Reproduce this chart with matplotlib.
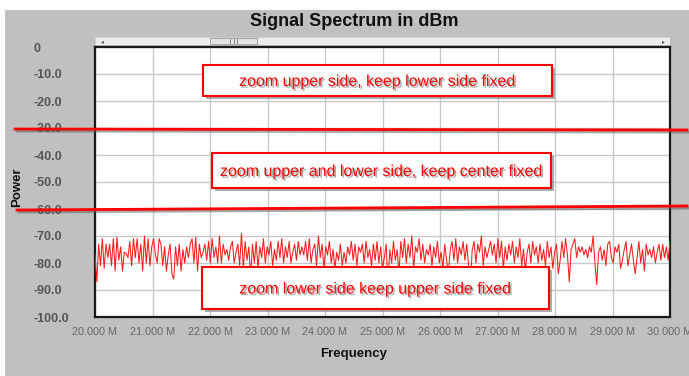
import numpy as np
import matplotlib
matplotlib.use("Agg")
import matplotlib.pyplot as plt
from matplotlib import patches, lines
import matplotlib.patheffects as pe

plt.rcParams['font.family'] = ['Liberation Sans', 'DejaVu Sans']

# Spectrum sweep (MHz) and measured power (dBm)
f_start, f_stop = 20.0, 30.0
power_dbm = [
    -77, -87, -73, -81, -71, -82, -73, -78, -73, -81, -71, -83, -70.5, -79, -74, -83,
    -76, -76.5, -78, -72, -81, -71, -78, -71, -80, -73, -83, -70, -80, -71, -81, -74,
    -71, -77, -80, -71, -73, -81, -74, -83, -77, -73, -84, -86, -74, -81, -73, -83,
    -75, -80, -74, -78, -73, -71, -80, -70.5, -83, -73, -78,
    -76, -73, -79, -72, -80, -71, -78, -74, -80, -70, -80, -73, -77, -75, -79, -74,
    -72, -80, -76, -73, -81, -69, -82, -72, -79, -74, -85, -73, -80, -72, -82, -74,
    -78, -71, -80, -74, -77, -72, -81, -75, -79, -72, -78, -71, -80, -74, -78, -72,
    -80, -76, -73, -79, -72, -77,
    -74, -77, -72, -79, -71, -80, -75, -73, -81, -70, -78, -73, -82, -74, -77, -72,
    -80, -75, -82, -76, -79, -73, -81, -76, -80, -74, -77, -72, -79, -73, -81, -74,
    -76, -73, -80, -72, -78, -75, -81, -73, -79, -72, -80, -74, -82, -78, -73, -88,
    -75, -80, -72, -79,
    -75, -84, -72, -78, -71, -80, -73, -78, -70, -82, -74, -76, -71, -79, -73, -80,
    -75, -77, -73, -81, -74, -78, -72, -80, -76, -82, -73, -79, -84, -75, -72, -79,
    -71, -80, -74, -77, -72, -79, -73, -81, -88, -75, -72, -80, -73, -76, -70, -81,
    -74, -78,
    -75, -72, -77, -73, -80, -71, -78, -72, -82, -74, -79, -73, -77, -72, -80, -74,
    -78, -71, -81, -75, -83, -76, -73, -80, -72, -77, -74, -80, -73, -79, -75, -81,
    -72, -78, -74, -82, -76, -73, -84, -79, -72, -78, -71, -77, -87, -75, -73, -71,
    -78, -74,
    -76, -74, -77, -75, -78, -74, -76, -70, -80, -88, -76, -74, -79, -75, -81, -73,
    -72, -78, -80, -74, -76, -73, -82, -79, -75, -72, -81, -77, -73, -79, -84, -78,
    -72, -80, -75, -83, -73, -77, -75, -78, -74, -80, -76, -73, -79, -73, -78, -74,
    -79, -72,
]
freq_mhz = np.linspace(f_start, f_stop, len(power_dbm))

x_ticks = np.arange(20, 31, 1)
y_ticks = np.arange(0, -101, -10)
y_labels = ["0"] + [f"{v:.1f}" for v in y_ticks[1:]]

W, H = 689, 376
fig = plt.figure(figsize=(W / 100, H / 100), dpi=100, facecolor='white')

def fx(px):
    return px / W

def fy(py):
    return 1 - py / H

# grey panel behind the chart
fig.patches.append(patches.Rectangle((fx(5), 0), 1 - fx(5), fy(10), transform=fig.transFigure,
                                     facecolor='#c0c0c0', edgecolor='none', zorder=-10))

ax = fig.add_axes([fx(95), fy(317), fx(670) - fx(95), fy(47) - fy(317)])
ax.set_facecolor('white')
ax.plot(freq_mhz, power_dbm, color='#ff1a1a', lw=0.75, zorder=3)

ax.set_xlim(f_start, f_stop)
ax.set_ylim(-100, 0)
ax.set_xticks(x_ticks)
ax.set_xticklabels([f"{v:.3f} M" for v in x_ticks], color='#666666', fontsize=7.8)
ax.set_yticks(y_ticks)
ax.set_yticklabels(y_labels, color='#555555', fontsize=9, fontweight='bold', ha='left')
ax.tick_params(axis='y', length=0, pad=62 * 0.72)
ax.tick_params(axis='x', length=0, pad=7.5)
ax.grid(True, color='#c8c8c8', lw=1.0, zorder=1)
ax.set_axisbelow(True)
for s in ax.spines.values():
    s.set_color('#1a1a1a')
    s.set_linewidth(1.6)

fig.text(fx(354), fy(22), "Signal Spectrum in dBm", ha='center', va='center',
         fontsize=13, fontweight='bold', color='#111111')
fig.text(fx(354), fy(354), "Frequency", ha='center', va='center',
         fontsize=9.5, fontweight='bold', color='#111111')
fig.text(fx(17), fy(187), "Power", ha='center', va='center', rotation=90,
         fontsize=9.5, fontweight='bold', color='#111111')

# scroll bar above the plot
sb = fig.add_axes([fx(95), fy(45), fx(670) - fx(95), fy(37) - fy(45)])
sb.set_xlim(0, 1)
sb.set_ylim(0, 1)
sb.axis('off')
sb.add_patch(patches.Rectangle((0, 0), 1, 1, facecolor='#ececec', edgecolor='#d0d0d0', lw=0.6))
thumb_l, thumb_r = (210 - 95) / 575, (257 - 95) / 575
sb.add_patch(patches.Rectangle((thumb_l, 0.1), thumb_r - thumb_l, 0.8, facecolor='#e4e4e4',
                               edgecolor='#9a9a9a', lw=0.6))
for dx in (-0.006, 0, 0.006):
    sb.plot([(thumb_l + thumb_r) / 2 + dx] * 2, [0.25, 0.75], color='#555555', lw=0.5)
sb.text(0.012, 0.45, '\u25c2', fontsize=4, color='#444444', ha='center', va='center')
sb.text(0.988, 0.45, '\u25b8', fontsize=4, color='#444444', ha='center', va='center')

# zoom region callouts
shadow_box = [pe.SimplePatchShadow(offset=(2.5, -2.5), shadow_rgbFace='#777777', alpha=0.6), pe.Normal()]
shadow_txt = [pe.withSimplePatchShadow(offset=(1.2, -1.2), shadow_rgbFace='#555555', alpha=0.5)]
boxes = [
    (203, 65, 552, 96, "zoom upper side, keep lower side fixed"),
    (212, 153, 551, 188, "zoom upper and lower side, keep center fixed"),
    (202, 267, 549, 309, "zoom lower side keep upper side fixed"),
]
for x0, y0, x1, y1, label in boxes:
    r = patches.Rectangle((fx(x0), fy(y1)), fx(x1) - fx(x0), fy(y0) - fy(y1),
                          transform=fig.transFigure, facecolor='white', edgecolor='#ff0000',
                          lw=1.5, zorder=5, path_effects=shadow_box)
    fig.patches.append(r)
    fig.text(fx((x0 + x1) / 2), fy((y0 + y1) / 2 + 1), label, ha='center', va='center',
             fontsize=11.5, color='#ff0000', zorder=6, path_effects=shadow_txt)

# zoom band boundaries
shadow_line = [pe.SimpleLineShadow(offset=(1.5, -1.5), shadow_color='#555555', alpha=0.5), pe.Normal()]
for (xa, ya), (xb, yb) in [((15, 129), (687, 130)), ((17, 210), (687, 206))]:
    fig.lines.append(lines.Line2D([fx(xa), fx(xb)], [fy(ya), fy(yb)], transform=fig.transFigure,
                                  color='#ff0000', lw=2.0, zorder=7, path_effects=shadow_line))

fig.savefig('out.png', dpi=100, facecolor='white')
